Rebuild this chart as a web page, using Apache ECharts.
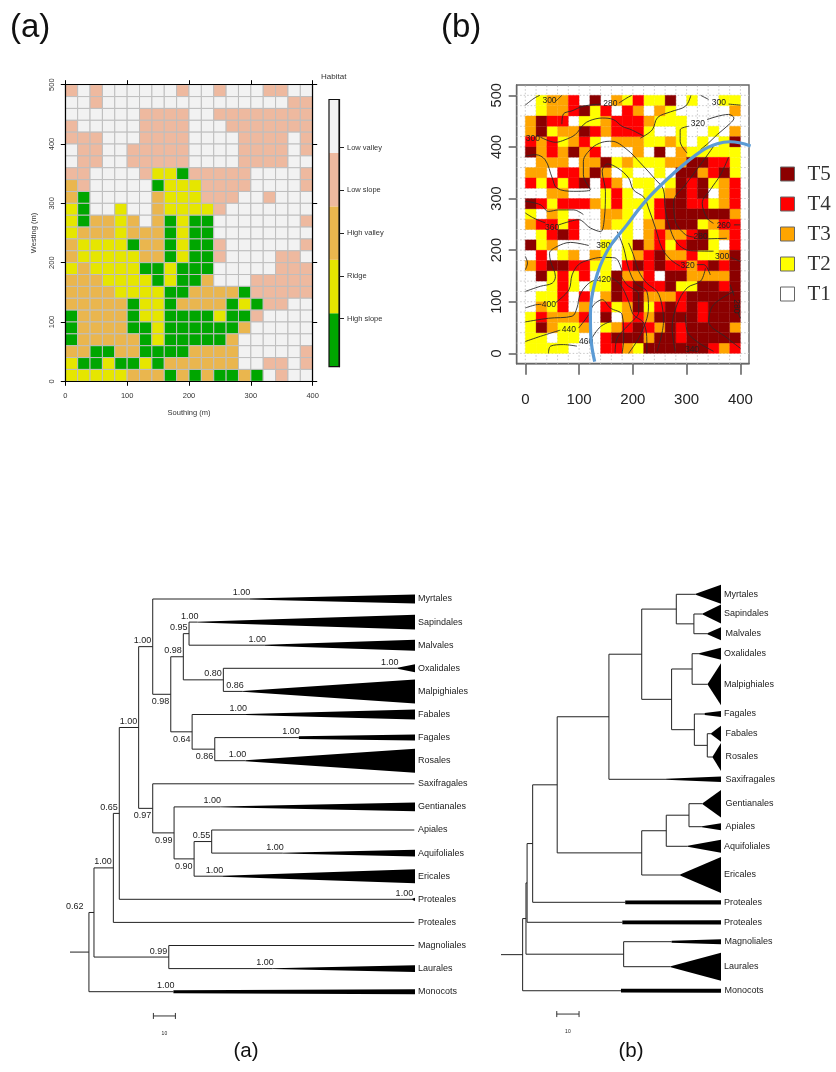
<!DOCTYPE html>
<html><head><meta charset="utf-8">
<style>html,body{margin:0;padding:0;background:#fff}#c{width:836px;height:1072px}</style>
<script src="https://cdn.jsdelivr.net/npm/echarts@6/dist/echarts.min.js"></script>
</head><body><div id="c"></div>
<script>
// ---------- Panel (a) top: habitat map (rows north to south, 20 m cells) ----------
const habitatNames = ['High slope','Ridge','High valley','Low slope','Low valley'];
const habitatColors = {G:'#00A600',Y:'#E6E600',O:'#EAB64E',P:'#EEB99F',W:'#F2F2F2'};
const habitatOrder = ['G','Y','O','P','W'];
const habitatRows = [
'PWPWWWWWWPWWPWWWPPWW','WWPWWWWWWWWWWWWWWWPP','WWWWWWPPPPWWPPPPPPPP','PWWWWWPPPPWWWPPPPPPP',
'PPPWWWPPPPWWWWPPPPWP','WPPWWPPPPPWWWWPPPPWP','WPPWWPPPPPWWWWPPPPWW','PPWWWWPYYGPPPPPWWWWP',
'OPWWWWWGYYYPPPPWWWWP','OGWWWWWOYYYPPPWWPWWW','YGWWYWWOYYYYPWWWWWWW','YGOOYOWOGYGGWWWWWWWP',
'YOOOYOOOGYGGWWWWWWWW','OYYYYGOOGYGGPWWWWWWP','OYYYYYOOGYGGPWWWWPPW','YOYYYYGGYGGGWWWWWPPP',
'OOOYYYYGYGGOWWWPPPPP','OOOOYYYYGGOOOOGPPPPP','OOOOOGYYGOOOOGYGPPWW','GOOOOGYYGGGGYGGPWWWW',
'GOOOOGGYGGGGGGOWWWWW','GOOOOOGYGGGGGOWWWWWW','OOGGOOGGGGOOOOWWWWWP','YGGYGGYGOOOOOOWWPPWP',
'YYYYYOOOGOGOGGOGWPWW'];
const habitatTicks = [0.9,1.7,2.5,3.3,4.1];

// ---------- Panel (b) top: tier map (rows north to south, 20 m cells) ----------
const tierNames = ['T1','T2','T3','T4','T5'];
const tierColors = ['#ffffff','#ffff00','#ffa500','#ff0000','#8b0000'];
const tierRows = [
'12334151324225121122','12334524143132111113','35441223444322211111','35233543444211211213',
'43423421333223212125','53435341113151322222','13331335232223355442','33144353121121553452',
'42424514312212545234','11331112421223545134','54244432422245544234','21321113321245555553',
'34424113221335552344','12454111121343345234','52311112125342455214','14123132123453342235',
'34554422145454434545','15242412533415533335','11242122545445225545','12241413545333455555',
'13241314235245454555','24333415134355554555','25322312345435455553','22122114555355455555',
'22221114432555555434'];
const tierTicksX = [0,100,200,300,400];
const tierTicksY = [0,100,200,300,400,500];
const dotLinesX = [0,20,40,60,80,100,120,140,160,180,200,220,240,260,280,300,320,340,360,380,400];
const dotLinesY = [0,20,40,60,80,100,120,140,160,180,200,220,240,260,280,300,320,340,360,380,400,420,440,460,480,500];

// Elevation contours (Southing, Westing)
const contours = [
[[0,481],[16,494],[27,500]],
[[56,488],[68,500]],
[[68,444],[71,464],[87,470],[108,479],[140,483]],
[[174,485],[189,495],[198,500]],
[[0,382],[19,385],[37,375],[50,340],[59,320],[90,314],[121,317],[108,346],[108,372],[124,398],[143,409],[161,411],[189,395],[214,369],[242,337],[257,317],[260,282],[267,249],[282,214],[307,199],[350,198]],
[[382,186],[400,178]],
[[0,295],[28,288],[43,275],[62,278],[90,278],[108,269]],
[[0,272],[16,262],[37,253]],
[[62,249],[84,256],[99,259],[121,243],[140,236],[147,262],[149,314],[143,353],[153,367],[172,359],[192,340],[201,317],[221,302],[229,282],[242,243],[254,204],[270,182],[288,169]],
[[319,172],[332,172],[344,152]],
[[0,188],[4,175],[0,162]],
[[0,120],[28,130],[50,136],[56,149],[47,178],[45,194],[59,207],[84,215],[118,209]],
[[161,211],[172,223]],
[[0,88],[19,94],[30,95]],
[[56,98],[81,123],[87,152],[99,172],[118,181],[143,186],[167,185],[180,159]],
[[0,61],[43,68],[87,72],[96,88],[102,114],[115,133],[130,143]],
[[161,146],[177,133],[192,101],[201,75],[220,59],[226,23],[226,0]],
[[0,23],[28,33],[65,45]],
[[99,49],[118,75],[127,94],[143,104],[158,88],[180,75],[183,30],[180,0]],
[[43,0],[47,14],[71,17],[96,14]],
[[124,30],[140,52],[161,63]],
[[192,0],[214,36],[229,88],[226,120],[205,136],[192,165],[183,204],[171,236]],
[[245,4],[257,62],[254,94],[245,120],[226,136],[211,159],[201,191],[192,214]],
[[279,4],[273,49],[282,94],[301,127],[326,140],[335,165]],
[[298,75],[301,43],[319,23],[350,4]],
[[388,120],[350,94],[341,62],[375,30],[400,10]],
[[381,133],[388,112]],
[[400,68],[396,78]],
[[167,1],[171,30],[192,55],[211,81],[211,114],[189,133],[177,152]],
[[214,417],[236,433],[246,457],[270,468],[298,479],[308,500]],
[[301,388],[288,411],[288,433],[304,440]],
[[338,453],[378,463],[388,456],[375,440],[357,424],[341,408],[326,395]],
[[326,500],[341,492]],
[[378,483],[400,481]],
[[28,419],[56,409],[74,414],[93,424],[108,443],[120,451],[143,456],[164,453],[180,440],[198,433],[220,421]],
[[378,380],[363,346],[344,317],[329,291],[338,262],[350,252]],
[[388,249],[400,249]],
[[350,401],[326,366],[298,327],[276,294],[279,256],[298,230],[315,225]],
[[340,222],[375,223]]
];
const contourLabels = [
['300',45,490,0],['280',158,483,0],['300',14,417,0],['320',321,446,0],['300',360,485,0],
['360',50,244,0],['380',145,209,0],['420',146,143,0],['400',44,94,0],['440',81,46,0],
['460',113,23,0],['340',310,7,0],['320',302,169,0],['300',366,188,0],['260',369,248,0],
['280',326,227,0],['280',392,91,1]];
const riverPath = [[129,-16],[122,30],[121,75],[130,140],[152,198],[189,249],[226,298],[276,349],[326,391],[357,406],[381,410],[419,402]];

// ---------- Trees: depth in substitutions units (scale bar = 10), row = tip row ----------
const treeATips = ['Myrtales','Sapindales','Malvales','Oxalidales','Malpighiales','Fabales','Fagales','Rosales','Saxifragales','Gentianales','Apiales','Aquifoliales','Ericales','Proteales','Proteales','Magnoliales','Laurales','Monocots'];
const treeARows = [0,1,2,3,4,5,6,7,8,9,10,11,12,13,14,15,16,17];
const treeAStem = [81.5,57.9,88.6,148.8,78.5,80,104,79.7,156.4,68.2,156.4,96.7,69.2,155.5,156.4,156.4,92.1,47];
const treeAWedge = [.19,.32,.24,.17,.52,.22,.13,.52,0,.19,0,.15,.30,.07,0,0,.15,.11];
const treeAStart = [.02,.02,.02,.02,.02,.02,.06,.02,0,.02,0,.02,.02,.02,0,0,.02,.065];
const treeASupportTip = ['1.00','1.00','1.00','1.00','0.86','1.00','1.00','1.00',null,'1.00',null,'1.00','1.00','1.00',null,null,'1.00','1.00'];
// node: [depth, support, label below branch, child, child]; a number child is a tip
const treeANodes = [8.6,null,0,
 [10.9,['0.62',-10.5],0,
  [19.7,'1.00',0,
   [22.4,'0.65',0,
    [31.2,'1.00',0,
     [37.6,'1.00',0,0,
      [45.8,'0.98',1,
       [51.5,'0.98',0,[54.1,'0.95',0,1,2],[69.7,'0.80',0,3,4]],
       [55.5,'0.64',1,5,[65.8,'0.86',1,6,7]]]],
     [37.6,'0.97',1,8,[47.3,'0.99',1,9,[56.4,'0.90',1,[64.4,'0.55',0,10,11],12]]]],
    13],
   14],
  [44.9,'0.99',0,15,16]],
 17];
const treeAEnd = 156.8;

const treeBTips = ['Myrtales','Sapindales','Malvales','Oxalidales','Malpighiales','Fagales','Fabales','Rosales','Saxifragales','Gentianales','Apiales','Aquifoliales','Ericales','Proteales','Proteales','Magnoliales','Laurales','Monocots'];
const treeBRows = [0,.845,1.69,2.547,3.859,5.133,5.978,6.977,7.933,8.979,9.966,10.806,12.037,13.208,14.065,14.897,15.969,17];
const treeBStem = [87.3,90.4,92.5,88.8,92.7,91.3,94.2,94.9,74,90.4,90.1,83.7,80.3,55.7,54.4,76.5,76.1,53.8];
const treeBWedge = [.41,.41,.28,.26,.90,.13,.34,.60,.12,.59,.15,.28,.77,.09,.09,.11,.60,.09];
const treeBStart = [.02,.02,.02,.02,.02,.04,.02,.02,.02,.02,.02,.02,.02,.08,.08,.04,.02,.08];
const treeBLabelGap = [3,3,4.5,3,3,3,4.5,4.5,4.5,4.5,4.5,3,3,3,3,3.5,3,3.5];
const treeBSupportTip = treeBTips.map(()=>null);
const treeBNodes = [9.7,null,0,
 [11.2,null,0,
  [11.7,null,0,
   [14.2,null,0,
    [25.2,null,0,
     [48.4,null,0,
      [63.1,null,0,
       [78.6,null,0,0,[86.5,null,0,1,2]],
       [76.5,null,0,[85.7,null,0,3,4],[86.7,null,0,5,[92.5,null,0,6,7]]]],
      8],
     [63.1,null,0,[74.1,null,0,[84.3,null,0,9,10],11],12]],
    13],
   14],
  [55,null,0,15,16]],
 17];
const treeBEnd = 98.65;

const FONT = '"Liberation Sans", Arial, sans-serif';
const INK = '#222';

// ---------- flatten a tree ----------
function layoutTree(root, rows, stem, wedge, start, tipSupport, end, names, gaps){
  const edges=[], wedges=[], labels=[], tips=[];
  function walk(n, parentD){
    if(typeof n==='number'){
      const y=rows[n];
      edges.push([parentD,y,stem[n],y]);
      if(wedge[n]>0) wedges.push([stem[n],y,end,start[n],wedge[n]]);
      else edges.push([stem[n],y,end-.3,y]);
      if(tipSupport[n]) labels.push([tipSupport[n],stem[n],y,0,1]);
      tips.push([names[n],end,y,gaps?gaps[n]:3]);
      return y;
    }
    const [d,sup,below,a,b]=n;
    const ya=walk(a,d), yb=walk(b,d), y=(ya+yb)/2;
    edges.push([d,ya,d,yb]);
    edges.push([parentD,y,d,y]);
    if(sup){const s=Array.isArray(sup)?sup:[sup,-1.5]; labels.push([s[0],d,y,below,s[1]]);}
    return y;
  }
  walk(root,0);
  return {edges,wedges,labels,tips};
}
const treeA = layoutTree(treeANodes,treeARows,treeAStem,treeAWedge,treeAStart,treeASupportTip,treeAEnd,treeATips);
const treeB = layoutTree(treeBNodes,treeBRows,treeBStem,treeBWedge,treeBStart,treeBSupportTip,treeBEnd,treeBTips,treeBLabelGap);

function treeSeries(t, axis, captionDepth, captionRow, barFrom, barRow, letter){
  const base={type:'custom',xAxisIndex:axis,yAxisIndex:axis,clip:false,silent:true,animation:false,z:3};
  const dataBar=[[barFrom,barRow,barFrom+10]];
  return [
   {...base,data:t.edges,renderItem:(p,api)=>{
      const a=api.coord([api.value(0),api.value(1)]),b=api.coord([api.value(2),api.value(3)]);
      return {type:'line',shape:{x1:a[0],y1:a[1],x2:b[0],y2:b[1]},style:{stroke:INK,lineWidth:1}};
   },encode:{x:0,y:1}},
   {...base,data:t.wedges,renderItem:(p,api)=>{
      const x0=api.value(0),y=api.value(1),x1=api.value(2),hs=api.value(3),he=api.value(4);
      const pts=[[x0,y-hs],[x1,y-he],[x1,y+he],[x0,y+hs]].map(q=>api.coord(q));
      return {type:'polygon',shape:{points:pts},style:{fill:'#000'}};
   },encode:{x:0,y:1}},
   {...base,data:t.labels.map(l=>[l[1],l[2],l[3],l[4]]),renderItem:(p,api)=>{
      const l=t.labels[p.dataIndex],c=api.coord([l[1],l[2]]);
      return {type:'text',x:c[0]+l[4],y:c[1]+(l[3]?7.5:-6),style:{text:l[0],font:'9px '+FONT,fill:INK,align:'right',verticalAlign:'middle'}};
   },encode:{x:0,y:1}},
   {...base,data:t.tips.map(l=>[l[1],l[2]]),renderItem:(p,api)=>{
      const l=t.tips[p.dataIndex],c=api.coord([l[1],l[2]]);
      return {type:'text',x:c[0]+l[3],y:c[1],style:{text:l[0],font:'9px '+FONT,fill:INK,align:'left',verticalAlign:'middle'}};
   },encode:{x:0,y:1}},
   {...base,data:dataBar,renderItem:(p,api)=>{
      const a=api.coord([api.value(0),api.value(1)]),b=api.coord([api.value(2),api.value(1)]);
      const s={stroke:'#333',lineWidth:1};
      return {type:'group',children:[
        {type:'line',shape:{x1:a[0],y1:a[1],x2:b[0],y2:b[1]},style:s},
        {type:'line',shape:{x1:a[0],y1:a[1]-3,x2:a[0],y2:a[1]+3},style:s},
        {type:'line',shape:{x1:b[0],y1:b[1]-3,x2:b[0],y2:b[1]+3},style:s},
        {type:'text',x:(a[0]+b[0])/2,y:a[1]+18,style:{text:'10',font:'5px '+FONT,fill:INK,align:'center',verticalAlign:'middle'}}
      ]};
   },encode:{x:0,y:1}},
   {...base,data:[[captionDepth,captionRow]],renderItem:(p,api)=>{
      const c=api.coord([api.value(0),api.value(1)]);
      return {type:'text',x:c[0],y:c[1],style:{text:letter,font:'20.5px '+FONT,fill:'#111',align:'center',verticalAlign:'middle'}};
   },encode:{x:0,y:1}}
  ];
}

// ---------- cells ----------
const habitatCells=[];
habitatRows.forEach((row,r)=>[...row].forEach((ch,c)=>habitatCells.push([c*20,(24-r)*20,habitatOrder.indexOf(ch)])));
const tierCells=[[],[],[],[],[]];
tierRows.forEach((row,r)=>[...row].forEach((ch,c)=>tierCells[+ch-1].push([c*20,(24-r)*20])));

const cellRender=(size,fill,stroke,lw)=>(p,api)=>{
  const a=api.coord([api.value(0),api.value(1)+size]),b=api.coord([api.value(0)+size,api.value(1)]);
  return {type:'rect',shape:{x:a[0],y:a[1],width:b[0]-a[0],height:b[1]-a[1]},style:{fill:fill(api),stroke:stroke,lineWidth:lw}};
};

const labelA={fontSize:7.5,fontFamily:FONT,color:'#333'};
const axisA={min:0,axisLine:{show:true,onZero:false,lineStyle:{color:'#000',width:1.2}},axisTick:{show:true,length:4.5,lineStyle:{color:'#000',width:1}},splitLine:{show:false},z:5};
const hidden=(i,min,max,inverse)=>({type:'value',gridIndex:i,min,max,inverse:!!inverse,show:false});
const tierAxisCommon={axisLine:{show:true,onZero:false,lineStyle:{color:'#666',width:1.4}},splitLine:{show:false},
  axisTick:{show:true,length:9,lineStyle:{color:'#666',width:1.6}}};

const option={
 animation:false,backgroundColor:'#fff',
 title:[
  {text:'(a)',left:5,top:6,textStyle:{fontSize:33,fontWeight:'normal',fontFamily:FONT,color:'#111'}},
  {text:'(b)',left:436,top:6,textStyle:{fontSize:33,fontWeight:'normal',fontFamily:FONT,color:'#111'}},
  {text:'Habitat',left:316,top:68,textStyle:{fontSize:8,fontWeight:'normal',fontFamily:FONT,color:'#333'}}
 ],
 legend:{show:true,orient:'vertical',left:780,top:163,data:['T5','T4','T3','T2','T1'],selectedMode:false,
   icon:'rect',itemWidth:14,itemHeight:14,itemGap:8,padding:0,
   itemStyle:{borderColor:'#666',borderWidth:1},
   textStyle:{fontFamily:'"Liberation Serif", serif',fontSize:21,color:'#333',padding:[0,0,0,8],height:22,lineHeight:22}},
 grid:[
  {left:65.3,top:84.7,width:247.4,height:296.6,containLabel:false},
  {left:329,top:99.5,width:10,height:267.2},
  {left:516.7,top:85,width:232.3,height:278.7,show:true,borderColor:'#666',borderWidth:1.4,backgroundColor:'transparent'},
  {left:70,top:599,width:345,height:462},
  {left:501,top:594.3,width:220,height:466.4}
 ],
 xAxis:[
  {type:'value',gridIndex:0,...axisA,max:400,interval:100,position:'bottom',axisLabel:{...labelA,margin:10.5},
    name:'Southing (m)',nameLocation:'middle',nameGap:28,nameTextStyle:labelA},
  {type:'value',gridIndex:0,...axisA,max:400,interval:100,position:'top',axisLabel:{show:false}},
  hidden(1,0,1),
  {type:'value',gridIndex:2,min:-16,max:416,position:'bottom',...tierAxisCommon,
    axisTick:{...tierAxisCommon.axisTick,length:11,customValues:tierTicksX},
    axisLabel:{customValues:tierTicksX,fontSize:15,fontFamily:FONT,color:'#222',margin:29}},
  hidden(3,0,treeAEnd),
  hidden(4,0,treeBEnd)
 ],
 yAxis:[
  {type:'value',gridIndex:0,...axisA,max:500,interval:100,position:'left',axisLabel:{...labelA,rotate:90,margin:9},
    name:'Westing (m)',nameLocation:'middle',nameGap:27,nameTextStyle:labelA},
  {type:'value',gridIndex:0,...axisA,max:500,interval:100,position:'right',axisLabel:{show:false}},
  {type:'value',gridIndex:1,min:0,max:5,position:'right',axisLine:{show:true,onZero:false,lineStyle:{color:'#111',width:1.2}},splitLine:{show:false},
    axisTick:{show:true,length:5,customValues:habitatTicks,lineStyle:{color:'#222',width:1}},
    axisLabel:{...labelA,margin:8,customValues:habitatTicks,formatter:v=>habitatNames[habitatTicks.indexOf(v)]||''}},
  {type:'value',gridIndex:2,min:-20,max:520,position:'left',...tierAxisCommon,
    axisTick:{...tierAxisCommon.axisTick,length:8,customValues:tierTicksY},
    axisLabel:{customValues:tierTicksY,rotate:90,fontSize:14.5,fontFamily:FONT,color:'#222',margin:12}},
  hidden(3,0,20,true),
  hidden(4,0,20,true)
 ],
 series:[
  {type:'custom',xAxisIndex:0,yAxisIndex:0,data:habitatCells,silent:true,z:2,encode:{x:0,y:1},
   renderItem:cellRender(20,api=>habitatColors[habitatOrder[api.value(2)]],'#bebebe',1)},
  {type:'custom',xAxisIndex:2,yAxisIndex:2,silent:true,z:2,encode:{y:0},clip:false,
   data:[[0],[1],[2],[3],[4]],
   renderItem:(p,api)=>{
     const i=api.value(0),a=api.coord([0,i+1]),b=api.coord([1,i]);
     return {type:'rect',shape:{x:a[0],y:a[1],width:b[0]-a[0],height:b[1]-a[1]},style:{fill:habitatColors[habitatOrder[i]]}};
   }},
  {type:'custom',xAxisIndex:2,yAxisIndex:2,silent:true,z:3,encode:{y:0},clip:false,data:[[5]],
   renderItem:(p,api)=>{
     const a=api.coord([0,api.value(0)]),b=api.coord([1,0]);
     return {type:'rect',shape:{x:a[0],y:a[1],width:b[0]-a[0],height:b[1]-a[1]},style:{fill:'none',stroke:'#111',lineWidth:1.2}};
   }},
  // dotted guide lines under the tier map
  {type:'custom',xAxisIndex:3,yAxisIndex:3,silent:true,z:1,data:dotLinesX.map(v=>[v]),encode:{x:0},
   renderItem:(p,api)=>{const a=api.coord([api.value(0),-20]),b=api.coord([api.value(0),520]);
     return {type:'line',shape:{x1:a[0],y1:a[1],x2:b[0],y2:b[1]},style:{stroke:'#c8c8c8',lineWidth:1,lineDash:[1.5,2]}};}},
  {type:'custom',xAxisIndex:3,yAxisIndex:3,silent:true,z:1,data:dotLinesY.map(v=>[v]),encode:{y:0},
   renderItem:(p,api)=>{const a=api.coord([-16,api.value(0)]),b=api.coord([416,api.value(0)]);
     return {type:'line',shape:{x1:a[0],y1:a[1],x2:b[0],y2:b[1]},style:{stroke:'#c8c8c8',lineWidth:1,lineDash:[1.5,2]}};}},
  // tier cells (T1 is unfilled, so the guide lines show through)
  ...tierNames.map((name,i)=>({type:'custom',name,xAxisIndex:3,yAxisIndex:3,silent:true,z:2,data:tierCells[i],encode:{x:0,y:1},
    itemStyle:{color:tierColors[i]},
    renderItem:i===0?(()=>null):cellRender(20,()=>tierColors[i],tierColors[i],.3)})),
  // contours
  ...contours.map(c=>({type:'line',xAxisIndex:3,yAxisIndex:3,data:c,smooth:.35,symbol:'none',silent:true,z:3,
     lineStyle:{color:'#2a2a2a',width:.9},clip:false})),
  {type:'custom',xAxisIndex:3,yAxisIndex:3,silent:true,z:4,encode:{x:1,y:2},clip:false,
   data:contourLabels.map(l=>[l[0],l[1],l[2],l[3]]),
   renderItem:(p,api)=>{
     const l=contourLabels[p.dataIndex],c=api.coord([l[1],l[2]]);
     return {type:'text',x:c[0],y:c[1],rotation:l[3]?-Math.PI/2:0,style:{text:l[0],font:'8.5px '+FONT,fill:'#222',align:'center',verticalAlign:'middle'}};
   }},
  {type:'line',xAxisIndex:3,yAxisIndex:3,data:riverPath,smooth:.4,symbol:'none',silent:true,z:5,clip:false,
   lineStyle:{color:'#5b9bd5',width:3.2}},
  // trees
  ...treeSeries(treeA,4,80,19.57,37.9,18.05,'(a)'),
  ...treeSeries(treeB,5,58.3,19.58,25,18,'(b)')
 ]
};
const chart=echarts.init(document.getElementById('c'),null,{renderer:'canvas'});
chart.setOption(option);
</script>
</body></html>
